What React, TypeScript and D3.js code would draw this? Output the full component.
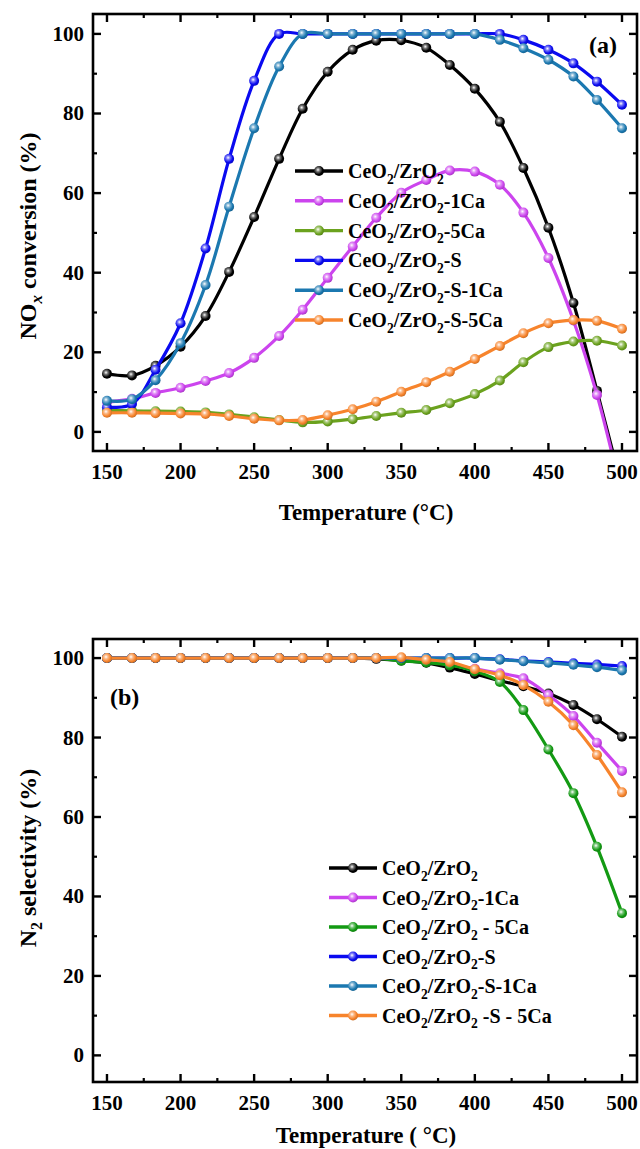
import React from 'react';
import * as d3 from 'd3';

// temperatures (°C) shared by both panels
const temps = [150, 167, 183, 200, 217, 233, 250, 267, 283, 300, 317, 333, 350, 367, 383, 400, 417, 433, 450, 467, 483, 500];

// (a) NOx conversion (%)
const noxCeZr = [14.6, 14.2, 16.6, 21.4, 29.1, 40.2, 54.0, 68.6, 81.2, 90.5, 96.0, 98.3, 98.4, 96.5, 92.2, 86.2, 77.9, 66.3, 51.3, 32.4, 10.3, -14];
const noxCeZr1Ca = [7.5, 8.3, 9.8, 11.1, 12.8, 14.8, 18.6, 24.1, 30.7, 38.7, 46.6, 53.8, 60.1, 63.3, 65.7, 65.4, 62.1, 55.1, 43.7, 28.0, 9.3, -16];
const noxCeZr5Ca = [5.4, 5.3, 5.2, 5.1, 4.9, 4.4, 3.7, 3.0, 2.4, 2.6, 3.2, 4.0, 4.8, 5.5, 7.2, 9.5, 12.9, 17.5, 21.3, 22.7, 22.9, 21.7];
const noxCeZrS = [6.2, 7.0, 15.6, 27.3, 46.1, 68.6, 88.2, 100, 100, 100, 100, 100, 100, 100, 100, 100, 100, 98.5, 96.0, 92.6, 88.0, 82.2];
const noxCeZrS1Ca = [7.8, 8.2, 13.0, 22.3, 36.9, 56.6, 76.3, 91.8, 100, 100, 100, 100, 100, 100, 100, 100, 98.5, 96.4, 93.5, 89.3, 83.4, 76.3];
const noxCeZrS5Ca = [4.8, 4.8, 4.7, 4.6, 4.5, 4.0, 3.3, 2.9, 3.0, 4.2, 5.7, 7.6, 10.1, 12.5, 15.1, 18.3, 21.6, 24.8, 27.3, 28.1, 27.9, 25.9];

// (b) N2 selectivity (%)
const selCeZr = [100, 100, 100, 100, 100, 100, 100, 100, 100, 100, 100, 99.8, 99.4, 98.8, 97.6, 96.0, 94.3, 92.9, 91.1, 88.2, 84.6, 80.2];
const selCeZr1Ca = [100, 100, 100, 100, 100, 100, 100, 100, 100, 100, 100, 100, 99.6, 99.2, 98.4, 97.3, 96.2, 94.9, 90.7, 85.4, 78.7, 71.6];
const selCeZr5Ca = [100, 100, 100, 100, 100, 100, 100, 100, 100, 100, 100, 100, 99.3, 98.9, 98.2, 96.7, 94.0, 86.9, 77.0, 66.0, 52.5, 35.8];
const selCeZrS = [100, 100, 100, 100, 100, 100, 100, 100, 100, 100, 100, 100, 100, 100, 100, 100, 99.7, 99.3, 99.0, 98.7, 98.4, 98.0];
const selCeZrS1Ca = [100, 100, 100, 100, 100, 100, 100, 100, 100, 100, 100, 100, 100, 100, 100, 100, 99.6, 99.2, 98.8, 98.3, 97.7, 96.9];
const selCeZrS5Ca = [100, 100, 100, 100, 100, 100, 100, 100, 100, 100, 100, 100, 100.2, 99.6, 99.0, 97.2, 95.7, 93.2, 89.0, 83.1, 75.6, 66.2];

const labelsA = ['CeO2/ZrO2', 'CeO2/ZrO2-1Ca', 'CeO2/ZrO2-5Ca', 'CeO2/ZrO2-S', 'CeO2/ZrO2-S-1Ca', 'CeO2/ZrO2-S-5Ca'];
const labelsB = ['CeO2/ZrO2', 'CeO2/ZrO2-1Ca', 'CeO2/ZrO2 - 5Ca', 'CeO2/ZrO2-S', 'CeO2/ZrO2-S-1Ca', 'CeO2/ZrO2 -S - 5Ca'];
const colorsA = ['#000000', '#cc44ee', '#6ba21e', '#0a0af0', '#1b78b0', '#f7842c'];
const colorsB = ['#000000', '#cc44ee', '#139a13', '#0a0af0', '#1b78b0', '#f7842c'];

const xTicks = [150, 200, 250, 300, 350, 400, 450, 500];
const xMinor = [175, 225, 275, 325, 375, 425, 475];
const yTicks = [0, 20, 40, 60, 80, 100];
const yMinor = [10, 30, 50, 70, 90];

const FONT = '"Liberation Serif", "Times New Roman", serif';

// turns "O2" into O with subscript 2
const rich = (label: string, size: number) => {
  const out: any[] = [];
  let shift = 0;
  label.split(/(O2)/).filter(Boolean).forEach((p, i) => {
    if (p === 'O2') {
      out.push(<tspan key={i + 'o'} dy={shift}>O</tspan>);
      out.push(<tspan key={i + 's'} dy={size * 0.28} fontSize={size * 0.68}>2</tspan>);
      shift = -size * 0.28;
    } else {
      out.push(<tspan key={i} dy={shift}>{p}</tspan>);
      shift = 0;
    }
  });
  return out;
};

const Ball = ({ id, color }: { id: string; color: string }) => (
  <radialGradient id={id} cx="40%" cy="38%" r="65%">
    <stop offset="0%" stopColor="#ffffff" />
    <stop offset="30%" stopColor={d3.interpolateRgb(color, '#ffffff')(0.45)} />
    <stop offset="70%" stopColor={color} />
    <stop offset="100%" stopColor={d3.color(color)!.darker(0.6).toString()} />
  </radialGradient>
);

type PanelProps = {
  id: string;
  top: number;
  bottom: number;
  yDomain: [number, number];
  series: number[][];
  colors: string[];
  labels: string[];
  legendX: number;
  legendY: number;
  legendGap: number;
  tag: string;
  tagX: number;
  tagY: number;
  yTitle: React.ReactNode;
  yTitleY: number;
  xTitle: string;
  xTitleY: number;
};

const Panel = (p: PanelProps) => {
  const left = 93;
  const right = 637;
  const x = d3.scaleLinear().domain([140.5, 510.2]).range([left, right]);
  const y = d3.scaleLinear().domain(p.yDomain).range([p.bottom, p.top]);
  const line = d3
    .line<number>()
    .x((_, i) => x(temps[i]))
    .y((d) => y(d))
    .curve(d3.curveCatmullRom.alpha(0.5));
  const r = 5;

  return (
    <g fontFamily={FONT} fontWeight="bold">
      <defs>
        <clipPath id={p.id + '-clip'}>
          <rect x={left} y={p.top} width={right - left} height={p.bottom - p.top} />
        </clipPath>
        {p.colors.map((c, i) => (
          <Ball key={i} id={`${p.id}-ball-${i}`} color={c} />
        ))}
      </defs>

      <g clipPath={`url(#${p.id}-clip)`}>
        {p.series.map((s, i) => (
          <g key={i}>
            <path d={line(s) || ''} fill="none" stroke={p.colors[i]} strokeWidth={3.2} />
            {s.map((v, j) => (
              <circle key={j} cx={x(temps[j])} cy={y(v)} r={r} fill={`url(#${p.id}-ball-${i})`} />
            ))}
          </g>
        ))}
      </g>

      {/* frame + inward ticks */}
      <rect x={left} y={p.top} width={right - left} height={p.bottom - p.top} fill="none" stroke="#000" strokeWidth={2.6} />
      {xTicks.map((t) => (
        <g key={t}>
          <line x1={x(t)} x2={x(t)} y1={p.bottom} y2={p.bottom - 8} stroke="#000" strokeWidth={2.4} />
          <line x1={x(t)} x2={x(t)} y1={p.top} y2={p.top + 8} stroke="#000" strokeWidth={2.4} />
          <text x={x(t)} y={p.bottom + 21} textAnchor="middle" dominantBaseline="central" fontSize={21}>
            {t}
          </text>
        </g>
      ))}
      {xMinor.map((t) => (
        <g key={t}>
          <line x1={x(t)} x2={x(t)} y1={p.bottom} y2={p.bottom - 4} stroke="#000" strokeWidth={2.2} />
          <line x1={x(t)} x2={x(t)} y1={p.top} y2={p.top + 4} stroke="#000" strokeWidth={2.2} />
        </g>
      ))}
      {yTicks.map((t) => (
        <g key={t}>
          <line x1={left} x2={left + 8} y1={y(t)} y2={y(t)} stroke="#000" strokeWidth={2.4} />
          <line x1={right} x2={right - 8} y1={y(t)} y2={y(t)} stroke="#000" strokeWidth={2.4} />
          <text x={84} y={y(t)} textAnchor="end" dominantBaseline="central" fontSize={21}>
            {t}
          </text>
        </g>
      ))}
      {yMinor.map((t) => (
        <g key={t}>
          <line x1={left} x2={left + 4} y1={y(t)} y2={y(t)} stroke="#000" strokeWidth={2.2} />
          <line x1={right} x2={right - 4} y1={y(t)} y2={y(t)} stroke="#000" strokeWidth={2.2} />
        </g>
      ))}

      {/* axis titles */}
      <text x={366} y={p.xTitleY} textAnchor="middle" dominantBaseline="central" fontSize={23}>
        {p.xTitle}
      </text>
      <text transform={`translate(36,${p.yTitleY}) rotate(-90)`} textAnchor="middle" fontSize={24}>
        {p.yTitle}
      </text>

      <text x={p.tagX} y={p.tagY} dominantBaseline="central" fontSize={24}>
        {p.tag}
      </text>

      {/* legend */}
      {p.labels.map((l, i) => {
        const ly = p.legendY + i * p.legendGap;
        return (
          <g key={i}>
            <line x1={p.legendX} x2={p.legendX + 48} y1={ly} y2={ly} stroke={p.colors[i]} strokeWidth={3.4} />
            <circle cx={p.legendX + 24} cy={ly} r={r} fill={`url(#${p.id}-ball-${i})`} />
            <text x={p.legendX + 53} y={ly + 7} fontSize={20}>
              {rich(l, 20)}
            </text>
          </g>
        );
      })}
    </g>
  );
};

const App = () => {
  return (
    <svg width={640} height={1149} style={{ position: 'absolute', left: 0, top: 0, background: '#fff' }}>
      <rect width={640} height={1149} fill="#fff" />
      <Panel
        id="a"
        top={14}
        bottom={451}
        yDomain={[-4.8, 105]}
        series={[noxCeZr, noxCeZr1Ca, noxCeZr5Ca, noxCeZrS, noxCeZrS1Ca, noxCeZrS5Ca]}
        colors={colorsA}
        labels={labelsA}
        legendX={295}
        legendY={171}
        legendGap={29.8}
        tag="(a)"
        tagX={589}
        tagY={45}
        yTitleY={236}
        xTitle="Temperature (°C)"
        xTitleY={512}
        yTitle={
          <>
            <tspan>NO</tspan>
            <tspan dy={6} fontSize={17} fontStyle="italic">x</tspan>
            <tspan dy={-6}> conversion (%)</tspan>
          </>
        }
      />
      <Panel
        id="b"
        top={639}
        bottom={1082}
        yDomain={[-6.7, 104.8]}
        series={[selCeZr, selCeZr1Ca, selCeZr5Ca, selCeZrS, selCeZrS1Ca, selCeZrS5Ca]}
        colors={colorsB}
        labels={labelsB}
        legendX={329}
        legendY={868}
        legendGap={29.5}
        tag="(b)"
        tagX={110}
        tagY={697}
        yTitleY={858}
        xTitle="Temperature ( °C)"
        xTitleY={1135}
        yTitle={
          <>
            <tspan>N</tspan>
            <tspan dy={6} fontSize={16}>2</tspan>
            <tspan dy={-6}> selectivity (%)</tspan>
          </>
        }
      />
    </svg>
  );
};

export default App;
